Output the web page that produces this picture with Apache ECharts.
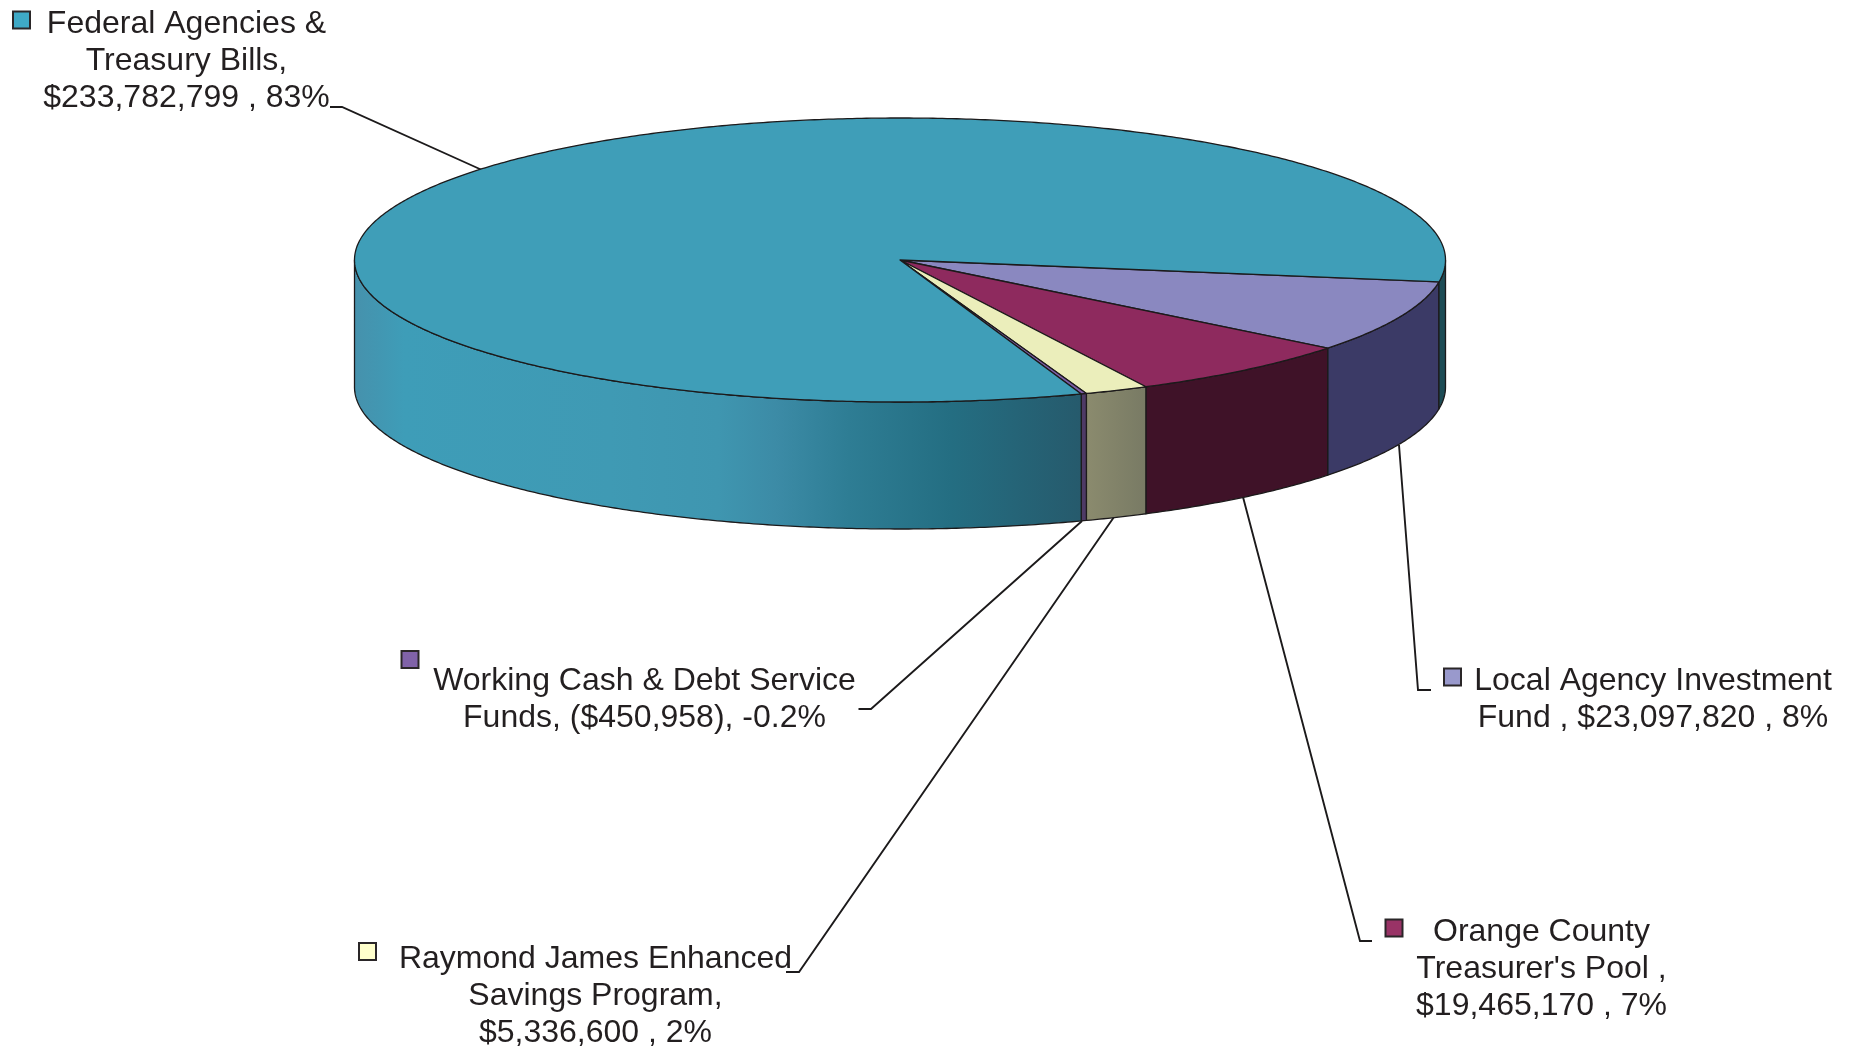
<!DOCTYPE html>
<html>
<head>
<meta charset="utf-8">
<style>html,body{margin:0;padding:0;background:#fff}#chart{width:1858px;height:1050px}</style>
<script src="https://cdn.jsdelivr.net/npm/echarts@6/dist/echarts.min.js"></script>
</head>
<body>
<div id="chart"></div>
<script>
// Data, in clockwise drawing order
const categories = ['Local Agency Investment Fund', "Orange County Treasurer's Pool", 'Raymond James Enhanced Savings Program', 'Working Cash & Debt Service Funds', 'Federal Agencies & Treasury Bills'];
const amounts = [23097820, 19465170, 5336600, -450958, 233782799];
const labelTexts = [
  'Local Agency Investment\nFund , $23,097,820 , 8%',
  "Orange County\nTreasurer's Pool ,\n$19,465,170 , 7%",
  'Raymond James Enhanced\nSavings Program,\n$5,336,600 , 2%',
  'Working Cash & Debt Service\nFunds, ($450,958), -0.2%',
  'Federal Agencies &\nTreasury Bills,\n$233,782,799 , 83%'
];
const topColors = ['#8a88c0', '#8e2a5e', '#ebeebb', '#7b5ea6', '#3f9eb8'];
const sideColors = ['#3b3a66', '#3f1228', '#84856c', '#4e3a66', '#2a7a90'];
const swatchColors = ['#9999cc', '#993366', '#ffffcc', '#8062a8', '#3fa9c6'];

// Layout
const cx = 900, cy = 260, rx = 545.5, ry = 142, depth = 127, startDeg = 8.9;
const ink = '#1c1a1b';
const labelPos = [[1653, 700], [1541.5, 969], [595.5, 996], [644.5, 700], [186.5, 61]];
const swatchPos = [[1444, 668.5], [1385.5, 919.5], [359, 943], [401.5, 651], [13, 11.5]];
const leaderPaths = [
  [[1399, 445], [1418, 690], [1431, 690]],
  [[1243, 497], [1360, 941], [1372, 941]],
  [[1114, 517], [799, 972], [786, 972]],
  [[1082, 521], [871, 709], [858.5, 709]],
  [[482, 170], [342, 107], [330, 107]]
];

const total = amounts.reduce((s, v) => s + Math.abs(v), 0);
const spans = [];
let acc = startDeg;
amounts.forEach(v => { const d = Math.abs(v) / total * 360; spans.push([acc, acc + d]); acc += d; });

function pt(deg, dy) {
  const t = deg * Math.PI / 180;
  return [cx + rx * Math.cos(t), cy + ry * Math.sin(t) + (dy || 0)];
}
function arc(a, b, dy) {
  const n = Math.max(2, Math.ceil(Math.abs(b - a) * 2)), out = [];
  for (let i = 0; i <= n; i++) out.push(pt(a + (b - a) * i / n, dy));
  return out;
}
function sideFace(a, b, fill) {
  return {
    type: 'polygon',
    shape: { points: arc(a, b, 0).concat(arc(b, a, depth)) },
    style: { fill: fill, stroke: ink, lineWidth: 1.3, lineJoin: 'round' }
  };
}
const federalFront = {
  type: 'linear', x: 0, y: 0, x2: 1, y2: 0,
  colorStops: [
    { offset: 0, color: '#4691ac' }, { offset: 0.07, color: '#3e9db8' },
    { offset: 0.35, color: '#3f9ab4' }, { offset: 0.5, color: '#3f96b0' },
    { offset: 0.58, color: '#3c8ba6' }, { offset: 0.68, color: '#2e7d94' },
    { offset: 0.82, color: '#246e82' }, { offset: 1, color: '#265a6c' }
  ]
};
const creamFront = {
  type: 'linear', x: 0, y: 0, x2: 1, y2: 0,
  colorStops: [{ offset: 0, color: '#8b8b6e' }, { offset: 1, color: '#787a64' }]
};

function renderSide(params) {
  const i = params.dataIndex, s = spans[i], kids = [];
  if (i === 4) {
    kids.push(sideFace(180, s[0], federalFront));
    kids.push(sideFace(360, s[1], '#1d4c55'));
  } else {
    kids.push(sideFace(s[0], s[1], i === 2 ? creamFront : sideColors[i]));
  }
  return { type: 'group', children: kids };
}
function renderTop(params) {
  const i = params.dataIndex, s = spans[i];
  return {
    type: 'polygon',
    shape: { points: [[cx, cy]].concat(arc(s[0], s[1], 0)) },
    style: { fill: topColors[i], stroke: ink, lineWidth: 1.3, lineJoin: 'round' }
  };
}
function renderNote(params) {
  const i = params.dataIndex, sw = swatchPos[i], lp = labelPos[i];
  return {
    type: 'group',
    children: [
      { type: 'polyline', shape: { points: leaderPaths[i] }, style: { fill: 'none', stroke: ink, lineWidth: 1.9 } },
      { type: 'rect', shape: { x: sw[0], y: sw[1], width: 17, height: 17 }, style: { fill: swatchColors[i], stroke: '#2a2628', lineWidth: 2 } },
      { type: 'text', style: {
          text: labelTexts[i], x: lp[0], y: lp[1], align: 'center', verticalAlign: 'middle',
          font: '32px "Liberation Sans", Arial, sans-serif', lineHeight: 37, fill: '#231f20'
      } }
    ]
  };
}
const rows = categories.map((name, i) => ({ name: name, value: [amounts[i]] }));
const chart = echarts.init(document.getElementById('chart'));
chart.setOption({
  animation: false,
  backgroundColor: '#ffffff',
  tooltip: { show: false },
  series: [
    { type: 'custom', name: 'notes', coordinateSystem: 'none', silent: true, z: 1, renderItem: renderNote, data: rows },
    { type: 'custom', name: 'sides', coordinateSystem: 'none', silent: true, z: 2, renderItem: renderSide, data: rows },
    { type: 'custom', name: 'tops', coordinateSystem: 'none', silent: true, z: 3, renderItem: renderTop, data: rows }
  ]
});
</script>
</body>
</html>
